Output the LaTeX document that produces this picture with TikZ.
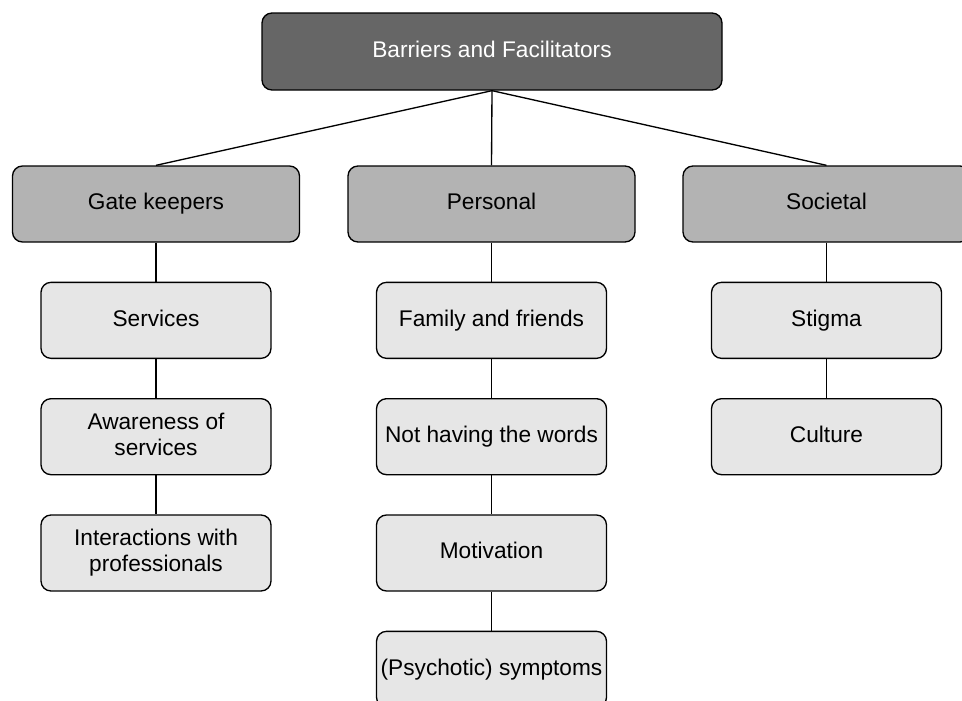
\documentclass[tikz,border=0pt]{standalone}
\usepackage{fontspec}
\setmainfont{Liberation Sans}
\usetikzlibrary{positioning}
\definecolor{rootgray}{HTML}{666666}
\definecolor{groupgray}{HTML}{B3B3B3}
\definecolor{itemgray}{HTML}{E6E6E6}
\newcommand{\boxstrut}{\rule[-4pt]{0pt}{16.5pt}}
\begin{document}
\begin{tikzpicture}[x=0.75pt, y=-0.75pt, line width=1pt, font=\fontsize{17}{19.5}\selectfont, node distance=29.25pt,
  root/.style={draw, rectangle, rounded corners=7.5pt, fill=rootgray, text=white, minimum width=345pt, minimum height=57.75pt, align=center, execute at begin node=\boxstrut, execute at end node=\boxstrut},
  group/.style={draw, rectangle, rounded corners=7.5pt, fill=groupgray, minimum width=215.25pt, minimum height=57pt, align=center, execute at begin node=\boxstrut, execute at end node=\boxstrut},
  item/.style={draw, rectangle, rounded corners=7.5pt, fill=itemgray, minimum width=172.5pt, minimum height=57pt, inner sep=1pt, align=center, execute at begin node=\boxstrut, execute at end node=\boxstrut}]
  \useasboundingbox (0,0) rectangle (962,700);
  % Nodes
  \node[root] (bf) at (492,51.5) {Barriers and Facilitators};
  \node[group] (gate) at (156,204) {Gate keepers};
  \node[group] (pers) at (491.5,204) {Personal};
  \node[group] (soc) at (826.5,204) {Societal};

  \node[item, below=of gate] (serv) {Services};
  \node[item, below=of serv] (aware) {Awareness of\\services};
  \node[item, below=of aware] (prof) {Interactions with\\professionals};

  \node[item, below=of pers] (fam) {Family and friends};
  \node[item, below=of fam] (words) {Not having the words};
  \node[item, below=of words] (motiv) {Motivation};
  \node[item, below=of motiv] (sympt) {(Psychotic) symptoms};

  \node[item, below=of soc] (stigma) {Stigma};
  \node[item, below=of stigma] (cult) {Culture};

  % Edges
  \draw (bf.south) -- (gate.north);
  \draw (bf.south) -- (pers.north);
  \draw (bf.south) -- (soc.north);
  \draw (gate) -- (serv) -- (aware) -- (prof);
  \draw (pers) -- (fam) -- (words) -- (motiv) -- (sympt);
  \draw (soc) -- (stigma) -- (cult);
\end{tikzpicture}
\end{document}
